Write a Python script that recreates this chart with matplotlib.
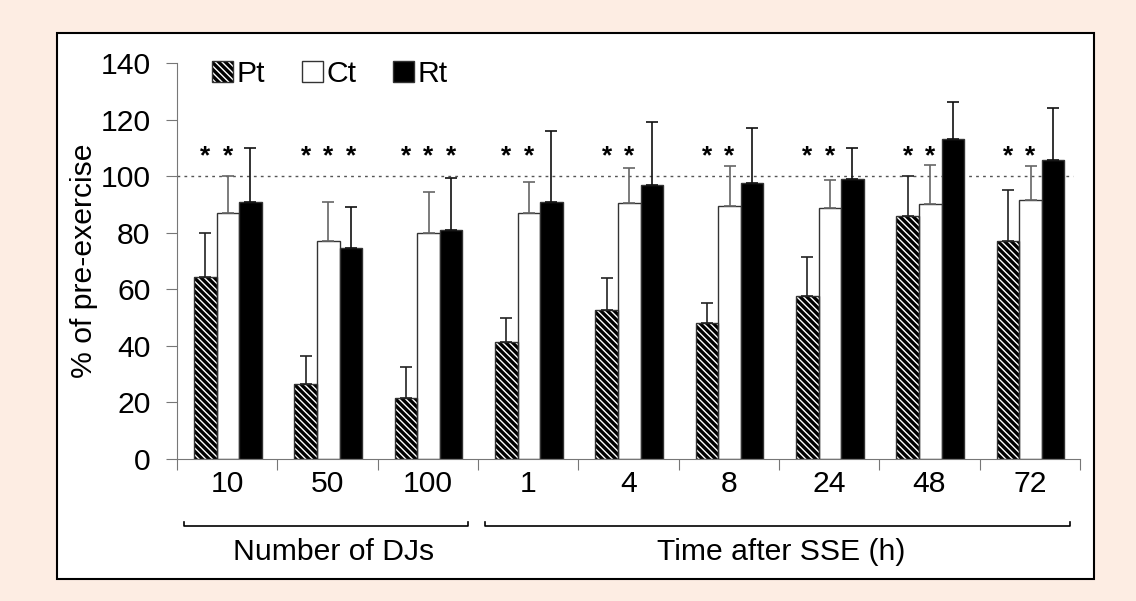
import numpy as np
import matplotlib.pyplot as plt
from matplotlib.patches import Rectangle, Patch
import matplotlib.transforms as mtransforms

plt.rcParams['font.family'] = ['Liberation Sans', 'DejaVu Sans']
plt.rcParams['hatch.linewidth'] = 1.0

groups = ["10", "50", "100", "1", "4", "8", "24", "48", "72"]
pt = [64.5, 26.5, 21.5, 41.5, 52.5, 48, 57.5, 86, 77]
ct = [87, 77, 80, 87, 90.5, 89.5, 88.6, 90, 91.4]
rt = [91, 74.5, 81, 91, 97, 97.5, 98.9, 113.2, 105.6]
pt_top = [80, 36.5, 32.5, 50, 64, 55, 71.5, 100, 95]
ct_top = [100, 91, 94.5, 98, 103, 103.5, 98.6, 104, 103.7]
rt_top = [110, 89, 99.5, 116, 119, 117, 110, 126.3, 124.2]
# which bars carry an asterisk (Pt, Ct, Rt)
stars = [(1, 1, 0), (1, 1, 1), (1, 1, 1), (1, 1, 0), (1, 1, 0),
         (1, 1, 0), (1, 1, 0), (1, 1, 0), (1, 1, 0)]
# section name, first group, last group + 1, label centre
sections = [("Number of DJs", 0, 3, 1.565), ("Time after SSE (h)", 3, 9, 6.02)]

fs = 21.7

fig = plt.figure(figsize=(11.36, 6.01), dpi=100)
fig.patch.set_facecolor('#fdede3')
fig.patches.append(Rectangle((0.0502, 0.0366), 0.9129, 0.9085, transform=fig.transFigure,
                             facecolor='white', edgecolor='black', lw=1.5, zorder=0))

ax = fig.add_axes([0.1558, 0.2363, 0.7949, 0.6589])
ax.set_zorder(2)
ax.set_facecolor('none')

x = np.arange(len(groups))
w = 0.225
x_pt = x + 0.17 + w / 2
x_ct = x_pt + w
x_rt = x_ct + w
hatch = '\\\\\\\\\\'

ax.bar(x_pt, pt, w, color='black', edgecolor='white', hatch=hatch, lw=0, zorder=2)
ax.bar(x_pt, pt, w, fill=False, edgecolor='#333333', lw=1, zorder=3)
ax.bar(x_ct, ct, w, color='white', edgecolor='#333333', lw=1, zorder=2)
ax.bar(x_rt, rt, w, color='black', edgecolor='#333333', lw=1, zorder=2)

for xs, v, top, c in [(x_pt, pt, pt_top, '#222222'), (x_ct, ct, ct_top, '#666666'),
                      (x_rt, rt, rt_top, '#111111')]:
    v = np.array(v)
    up = np.array(top) - v
    ax.errorbar(xs, v, yerr=[np.zeros_like(v), up], fmt='none', ecolor=c,
                elinewidth=1.2, capsize=4, capthick=1.2, zorder=4)

ax.plot([0, 8.93], [100, 100], ls=(0, (2, 3)), color='#555555', lw=1, zorder=1)

for i, s in enumerate(stars):
    for k, xs in enumerate([x_pt, x_ct, x_rt]):
        if s[k]:
            ax.text(xs[i], 104.5, '*', ha='center', va='baseline', fontsize=19,
                    fontweight='bold', zorder=5)

ax.set_xlim(0, 9)
ax.set_ylim(0, 140)
ax.set_yticks(np.arange(0, 141, 20))
ax.set_xticks(np.arange(0, 10))
ax.set_xticklabels([])
ax.tick_params(axis='y', direction='out', length=8, color='#777777', labelsize=fs, pad=11)
ax.tick_params(axis='x', direction='out', length=8, color='#777777')
for sp in ['top', 'right']:
    ax.spines[sp].set_visible(False)
for sp in ['left', 'bottom']:
    ax.spines[sp].set_color('#777777')
ax.set_ylabel('% of pre-exercise', fontsize=fs, labelpad=2)

trans = mtransforms.blended_transform_factory(ax.transData, ax.transAxes)
for i, g in enumerate(groups):
    ax.text(x[i] + 0.5, -0.062, g, transform=trans, ha='center', va='center', fontsize=fs)

for name, a, b, c in sections:
    x0 = a + 0.07
    x1 = b - 0.1
    ax.plot([x0, x0, x1, x1], [-0.159, -0.169, -0.169, -0.159], transform=trans,
            color='black', lw=1.2, clip_on=False)
    ax.text(c, -0.235, name, transform=trans, ha='center', va='center', fontsize=fs)

h_pt = (Patch(facecolor='black', edgecolor='white', hatch=hatch, lw=0),
        Patch(fill=False, edgecolor='#333333', lw=1))
h_ct = Patch(facecolor='white', edgecolor='#333333', lw=1)
h_rt = Patch(facecolor='black', edgecolor='#333333', lw=1)
ax.legend([h_pt, h_ct, h_rt], ['Pt', 'Ct', 'Rt'], loc='upper left',
          bbox_to_anchor=(0.009, 1.075), ncol=3, frameon=False, fontsize=fs,
          handlelength=0.7, handleheight=0.7, handletextpad=0.12, columnspacing=1.2)

fig.savefig('out.png', dpi=100, facecolor=fig.get_facecolor())
